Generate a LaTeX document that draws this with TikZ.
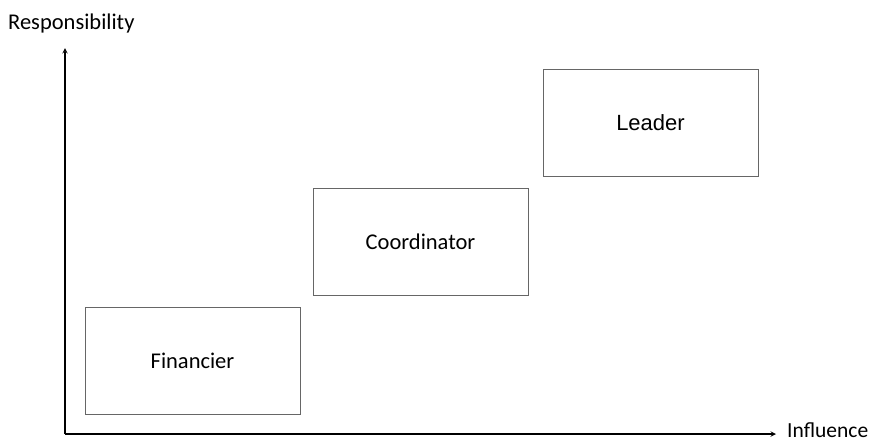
\documentclass[tikz,border=0pt]{standalone}
\usepackage{fontspec}
\setmainfont{Carlito}
\newfontfamily\helv{Liberation Sans}
\begin{document}
\begin{tikzpicture}[
    x=1pt, y=-1pt,
    role/.style={draw=black!60, line width=0.8pt, minimum width=215pt, minimum height=107pt, inner sep=0pt, font=\fontsize{22.5}{26}\selectfont},
    axis/.style={-stealth, line width=1.4pt},
    axislabel/.style={font=\fontsize{22.5}{26}\selectfont, inner sep=0pt}
  ]
  \useasboundingbox (0,0) rectangle (876,442);

  % axes
  \coordinate (origin) at (65,434);
  \coordinate (ytip) at (65,48);
  \coordinate (xtip) at (776,434);
  \draw[axis] (origin) -- (ytip);
  \draw[axis] (origin) -- (xtip);
  \node[axislabel, anchor=base west] (resp) at (8,29) {Responsibility};
  \node[axislabel, anchor=base west, font=\fontsize{21.5}{26}\selectfont] (infl) at (787,437) {Influence};

  % roles
  \node[role] (financier) at (192.5,360.5) {Financier};
  \node[role] (coordinator) at (420.5,241.5) {Coordinator};
  \node[role, font=\helv\fontsize{22}{26}\selectfont] (leader) at (650.5,122.5) {Leader};

\end{tikzpicture}
\end{document}
